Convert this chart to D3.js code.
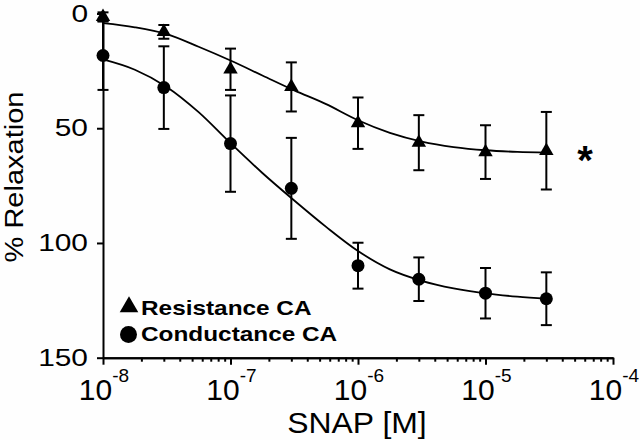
<!DOCTYPE html>
<html><head><meta charset="utf-8">
<script src="https://cdn.jsdelivr.net/npm/d3@7"></script>
<style>body{margin:0;background:#fefefe;} svg{display:block;} text{font-family:"Liberation Sans",Arial,sans-serif;fill:#000;}</style>
</head><body>
<script>
// ---- data ----
const concentrations = [1e-8, 3e-8, 1e-7, 3e-7, 1e-6, 3e-6, 1e-5, 3e-5];
const resistanceMean = [1.5, 8, 24.3, 32, 47.8, 56.3, 60.4, 59.8];
const resistanceErr  = [2, 3, 9, 10.7, 11.2, 12, 11.7, 16.9];
const conductanceMean = [18.3, 32.3, 56.7, 76.2, 109.9, 115.8, 121.9, 124.3];
const conductanceErr  = [15, 18, 21, 22, 10, 9.5, 11, 11.5];
// fitted curves (log10 concentration -> % relaxation)
const curveLogConc = [-8, -7.75, -7.5, -7.25, -7, -6.75, -6.5, -6.25, -6, -5.75, -5.5, -5.25, -5, -4.75, -4.52];
const resistanceFit  = [4.2, 6, 9, 14.5, 20.5, 27, 33.5, 39.5, 46.5, 52, 55.8, 58.2, 59.6, 60.3, 60.6];
const conductanceFit = [20, 24.5, 32, 43, 56.5, 69.5, 81.5, 93, 103.5, 111.5, 116.5, 119.8, 122, 123.4, 124.3];
const yTicks = [0, 50, 100, 150];
const xMajor = [-8, -7, -6, -5, -4];
const legendLabels = ["Resistance CA", "Conductance CA"];

const W = 640, H = 440;
const svg = d3.select("body").append("svg").attr("width", W).attr("height", H);
svg.append("rect").attr("width", W).attr("height", H).attr("fill", "#fefefe");

const x = d3.scaleLog().domain([1e-8, 1e-4]).range([103, 613]);
const y = d3.scaleLinear().domain([0, 150]).range([13.5, 357.7]);

// minor ticks
const minor = [];
xMajor.slice(0, -1).forEach(e => { for (let m = 2; m <= 9; m++) minor.push(m * Math.pow(10, e)); });

const axStyle = g => { g.selectAll("path,line").attr("stroke", "#000").attr("stroke-width", 2); g.selectAll("text").remove(); };

svg.append("g").attr("transform", "translate(0,357.7)")
  .call(d3.axisBottom(x).tickValues(minor).tickSize(4).tickSizeOuter(0).tickFormat(""))
  .call(axStyle);
svg.append("g").attr("transform", "translate(0,357.7)")
  .call(d3.axisBottom(x).tickValues(xMajor.map(e => Math.pow(10, e))).tickSize(7).tickSizeOuter(0).tickFormat(""))
  .call(axStyle);
svg.append("g").attr("transform", "translate(103,0)")
  .call(d3.axisLeft(y).tickValues(yTicks).tickSize(6).tickSizeOuter(0).tickFormat(""))
  .call(axStyle);

// y tick labels
yTicks.forEach(v => {
  svg.append("text").attr("transform", `translate(88,${y(v) + 8.2}) scale(1.3,1)`)
    .attr("text-anchor", "end").attr("font-size", 23).text(v);
});
// x tick labels
xMajor.forEach(e => {
  const t = svg.append("text").attr("x", x(Math.pow(10, e)) + 1).attr("y", 400)
    .attr("text-anchor", "middle").attr("font-size", 30);
  t.append("tspan").text("10");
  t.append("tspan").attr("dy", -18).attr("font-size", 19).text(String(e));
});

// axis titles
svg.append("text").attr("transform", "translate(357,433) scale(1.1,1)")
  .attr("text-anchor", "middle").attr("font-size", 29).text("SNAP [M]");
svg.append("text").attr("transform", "translate(23,177) rotate(-90) scale(1.16,1)")
  .attr("text-anchor", "middle").attr("font-size", 25).text("% Relaxation");

// fitted curves
const line = d3.line().x(d => x(Math.pow(10, d[0]))).y(d => y(d[1])).curve(d3.curveMonotoneX);
[resistanceFit, conductanceFit].forEach(vals => {
  svg.append("path").datum(curveLogConc.map((c, i) => [c, vals[i]]))
    .attr("d", line).attr("fill", "none").attr("stroke", "#000").attr("stroke-width", 1.8);
});

// error bars
function errBars(means, errs) {
  const g = svg.append("g").attr("stroke", "#000").attr("stroke-width", 2);
  concentrations.forEach((c, i) => {
    const cx = x(c), lo = y(means[i] - errs[i]), hi = y(means[i] + errs[i]);
    g.append("line").attr("x1", cx).attr("x2", cx).attr("y1", lo).attr("y2", hi);
    [lo, hi].forEach(yy => g.append("line").attr("x1", cx - 5.5).attr("x2", cx + 5.5).attr("y1", yy).attr("y2", yy));
  });
}
errBars(conductanceMean, conductanceErr);
errBars(resistanceMean, resistanceErr);

// markers
const tri = d3.symbol().type(d3.symbolTriangle);
concentrations.forEach((c, i) => {
  svg.append("circle").attr("cx", x(c)).attr("cy", y(conductanceMean[i])).attr("r", 6.5).attr("fill", "#000");
});
concentrations.forEach((c, i) => {
  svg.append("path").attr("d", tri.size(90)()).attr("transform", `translate(${x(c)},${y(resistanceMean[i])})`).attr("fill", "#000");
});

// significance asterisk
svg.append("text").attr("x", 585).attr("y", 174).attr("text-anchor", "middle")
  .attr("font-size", 40).attr("font-weight", "bold").text("*");

// legend
svg.append("path").attr("d", tri.size(150)()).attr("transform", "translate(129,307)").attr("fill", "#000");
svg.append("circle").attr("cx", 128.5).attr("cy", 334.5).attr("r", 8.5).attr("fill", "#000");
svg.append("text").attr("transform", "translate(141,315) scale(1.16,1)").attr("font-size", 21).attr("font-weight", "bold").text(legendLabels[0]);
svg.append("text").attr("transform", "translate(141,341) scale(1.16,1)").attr("font-size", 21).attr("font-weight", "bold").text(legendLabels[1]);
</script>
</body></html>
